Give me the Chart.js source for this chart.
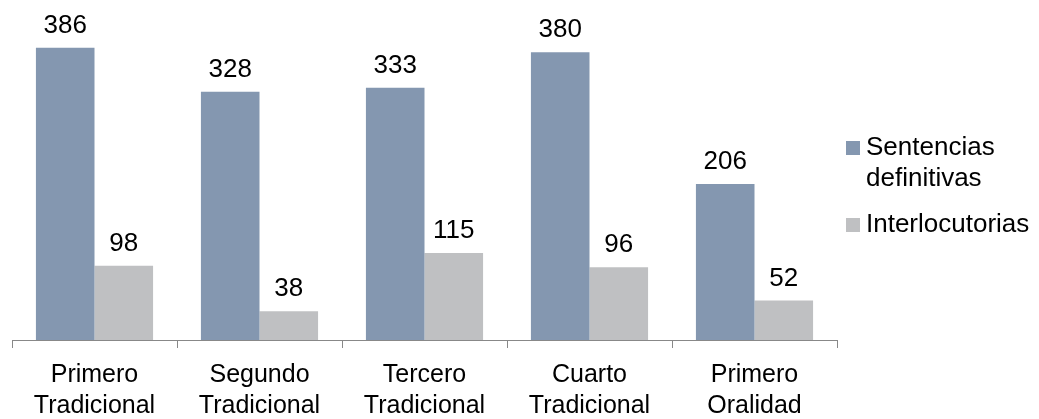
<!DOCTYPE html>
<html>
<head>
<meta charset="utf-8">
<script src="https://cdn.jsdelivr.net/npm/chart.js@4.4.1/dist/chart.umd.min.js"></script>
<style>
html,body{margin:0;padding:0;background:#fff;}
#wrap{width:1039px;height:419px;position:relative;}
</style>
</head>
<body>
<div id="wrap"><canvas id="c" width="1039" height="419"></canvas></div>
<script>
const categories = [["Primero","Tradicional"],["Segundo","Tradicional"],["Tercero","Tradicional"],["Cuarto","Tradicional"],["Primero","Oralidad"]];
const sentencias = [386, 328, 333, 380, 206];
const interlocutorias = [98, 38, 115, 96, 52];
const seriesNames = [["Sentencias","definitivas"], ["Interlocutorias"]];
const colors = ["#8497B0", "#BFC0C2"];
const FONT = "'Liberation Sans', Arial, sans-serif";

const valueLabels = {
  id: 'valueLabels',
  afterDatasetsDraw(chart) {
    const ctx = chart.ctx;
    ctx.save();
    ctx.fillStyle = '#000';
    ctx.font = '26px ' + FONT;
    ctx.textAlign = 'center';
    ctx.textBaseline = 'alphabetic';
    chart.data.datasets.forEach((ds, i) => {
      chart.getDatasetMeta(i).data.forEach((bar, j) => {
        ctx.fillText(String(ds.data[j]), bar.x, bar.y - 15);
      });
    });
    ctx.restore();
  }
};

const customLegend = {
  id: 'customLegend',
  afterDraw(chart) {
    const ctx = chart.ctx;
    ctx.save();
    ctx.font = '26px ' + FONT;
    ctx.textBaseline = 'alphabetic';
    ctx.textAlign = 'left';
    const x0 = chart.chartArea.right + 9;
    const baselines = [155, 232];
    chart.data.datasets.forEach((ds, i) => {
      const names = seriesNames[i];
      const b = baselines[i];
      ctx.fillStyle = ds.backgroundColor;
      ctx.fillRect(x0, b - 14, 14, 14);
      ctx.fillStyle = '#000';
      names.forEach((t, k) => ctx.fillText(t, x0 + 20, b + k * 31));
    });
    ctx.restore();
  }
};

new Chart(document.getElementById('c'), {
  type: 'bar',
  data: {
    labels: categories,
    datasets: [
      { label: seriesNames[0].join(' '), data: sentencias, backgroundColor: colors[0] },
      { label: seriesNames[1].join(' '), data: interlocutorias, backgroundColor: colors[1] }
    ]
  },
  options: {
    responsive: false,
    animation: false,
    layout: { padding: { left: 12, right: 202, top: 0, bottom: 0 } },
    datasets: { bar: { categoryPercentage: 0.71, barPercentage: 1.0 } },
    plugins: { legend: { display: false }, tooltip: { enabled: false } },
    scales: {
      y: { display: false, min: 0, max: 449 },
      x: {
        offset: true,
        afterFit(scale) { scale.height = 79; },
        grid: { offset: true, drawOnChartArea: false, drawTicks: true, tickLength: 8, color: '#888', lineWidth: 1 },
        border: { display: true, color: '#888', width: 1 },
        ticks: { color: '#000', font: { family: FONT, size: 25, lineHeight: 1.24 }, padding: 12, maxRotation: 0, autoSkip: false }
      }
    }
  },
  plugins: [valueLabels, customLegend]
});
</script>
</body>
</html>
